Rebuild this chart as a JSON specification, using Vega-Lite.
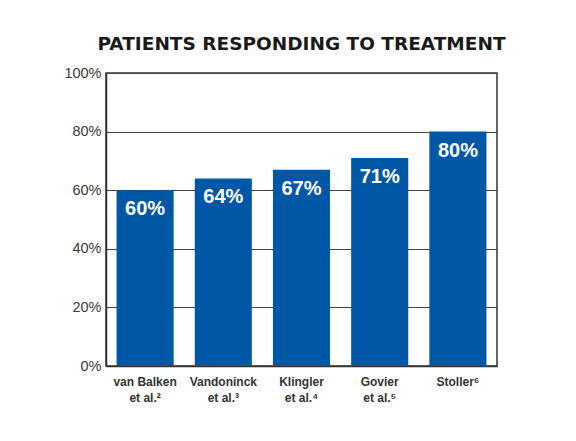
{
  "$schema": "https://vega.github.io/schema/vega-lite/v6.json",
  "autosize": "none",
  "width": 391,
  "height": 293,
  "padding": {"left": 106, "top": 73, "right": 79, "bottom": 75},
  "background": "white",
  "title": {
    "text": "PATIENTS RESPONDING TO TREATMENT",
    "font": "DejaVu Sans",
    "fontSize": 18.5,
    "fontWeight": "bold",
    "color": "#1a1a1a",
    "anchor": "middle",
    "offset": 12
  },
  "data": {
    "values": [
      {"study": "van Balken|et al.²", "pct": 60, "label": "60%"},
      {"study": "Vandoninck|et al.³", "pct": 64, "label": "64%"},
      {"study": "Klingler|et al.⁴", "pct": 67, "label": "67%"},
      {"study": "Govier|et al.⁵", "pct": 71, "label": "71%"},
      {"study": "Stoller⁶", "pct": 80, "label": "80%"}
    ]
  },
  "encoding": {
    "x": {
      "field": "study",
      "type": "nominal",
      "sort": null,
      "scale": {"paddingInner": 0.27, "paddingOuter": 0.135},
      "axis": {
        "title": null,
        "labelAngle": 0,
        "labelExpr": "split(datum.label, '|')",
        "labelFont": "Liberation Sans",
        "labelFontSize": 12,
        "labelFontWeight": "bold",
        "labelColor": "#333333",
        "labelLineHeight": 16,
        "labelPadding": 10,
        "ticks": false,
        "domainColor": "#333333",
        "domainWidth": 1.5
      }
    },
    "y": {
      "field": "pct",
      "type": "quantitative",
      "scale": {"domain": [0, 100]},
      "axis": {
        "title": null,
        "values": [0, 20, 40, 60, 80, 100],
        "labelExpr": "datum.value + '%'",
        "labelFont": "Liberation Sans",
        "labelFontSize": 14.5,
        "labelColor": "#3a3a3a",
        "labelPadding": 5,
        "ticks": false,
        "domainColor": "#333333",
        "domainWidth": 1.5,
        "grid": true,
        "gridColor": "#444444",
        "gridWidth": 1
      }
    }
  },
  "layer": [
    {"mark": {"type": "bar", "color": "#0057a6"}},
    {
      "mark": {
        "type": "text",
        "baseline": "top",
        "dy": 9,
        "color": "white",
        "font": "Liberation Sans",
        "fontSize": 20,
        "fontWeight": "bold"
      },
      "encoding": {"text": {"field": "label", "type": "nominal"}}
    }
  ],
  "config": {
    "view": {"stroke": "#333333", "strokeWidth": 1.5}
  }
}
